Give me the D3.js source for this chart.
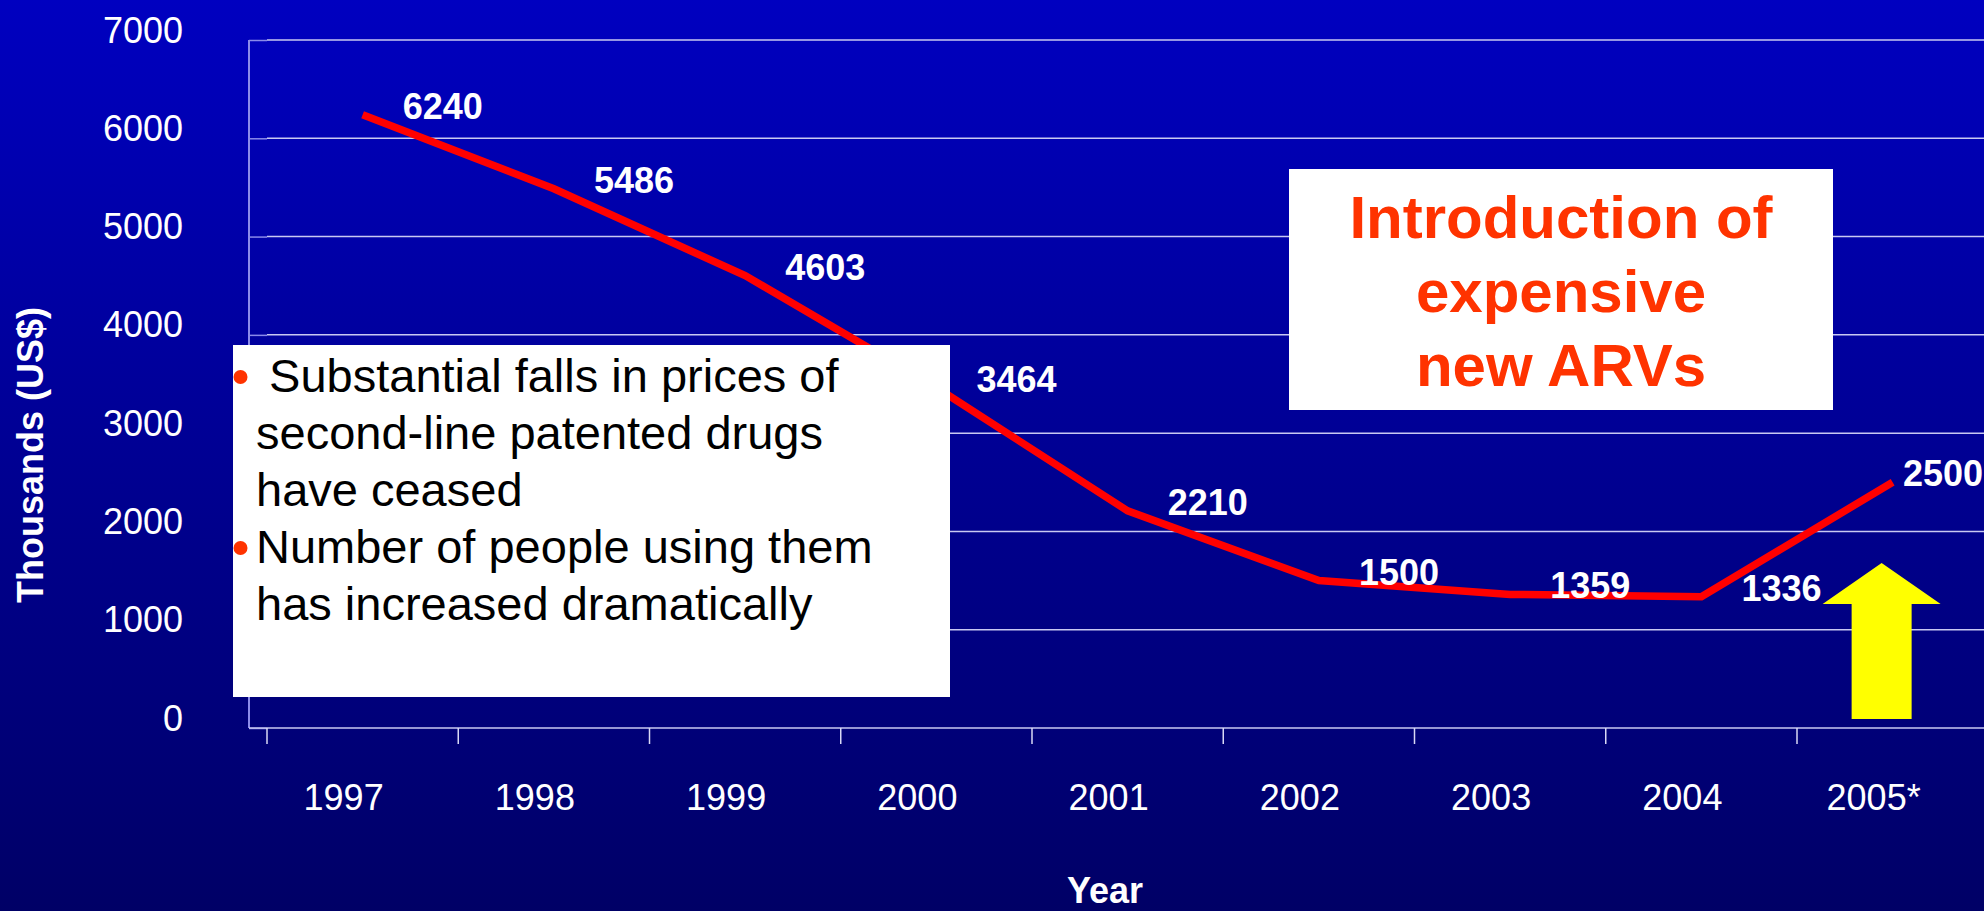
<!DOCTYPE html>
<html>
<head>
<meta charset="utf-8">
<script src="https://cdn.jsdelivr.net/npm/d3@7/dist/d3.min.js"></script>
<style>
  html, body { margin: 0; padding: 0; background: #000080; }
  svg { display: block; }
  text { font-family: "Liberation Sans", Arial, Helvetica, sans-serif; }
</style>
</head>
<body>
<svg id="chart" width="1984" height="911"></svg>
<script>
// Yearly spending on second-line ARVs, thousands of US$
const years = ["1997", "1998", "1999", "2000", "2001", "2002", "2003", "2004", "2005*"];
const spending = [6240, 5486, 4603, 3464, 2210, 1500, 1359, 1336, 2500];
const yTicks = [0, 1000, 2000, 3000, 4000, 5000, 6000, 7000];

const noteLines = [
  " Substantial falls in prices of",
  "second-line patented drugs",
  "have ceased",
  "Number of people using them",
  "has increased dramatically"
];
const noteBulletLines = [0, 3];
const calloutLines = ["Introduction of", "expensive", "new ARVs"];

const W = 1984, H = 911;
const svg = d3.select("#chart");

// background gradient
const defs = svg.append("defs");
const grad = defs.append("linearGradient")
  .attr("id", "bg").attr("x1", 0).attr("y1", 0).attr("x2", 0).attr("y2", 1);
grad.append("stop").attr("offset", "0%").attr("stop-color", "#0000C0");
grad.append("stop").attr("offset", "100%").attr("stop-color", "#000066");
svg.append("rect").attr("width", W).attr("height", H).attr("fill", "url(#bg)");

// scales
const axisX = 249;
const x = d3.scaleBand().domain(years).range([267, 267 + 9 * 191.25]);
const y = d3.scaleLinear().domain([0, 7000]).range([728, 40]);
const cx = d => x(d) + x.bandwidth() / 2;

// horizontal gridlines
svg.append("g").selectAll("line").data(yTicks.filter(v => v > 0)).join("line")
  .attr("x1", 267).attr("x2", W)
  .attr("y1", d => y(d)).attr("y2", d => y(d))
  .attr("stroke", "#C8C8F2").attr("stroke-width", 1.5);

// y axis: short inner stubs + labels
const yAxis = svg.append("g").attr("transform", `translate(${axisX},0)`)
  .call(d3.axisLeft(y).tickValues(yTicks).tickFormat(d3.format("d"))
    .tickSizeInner(-18).tickSizeOuter(0).tickPadding(66));
yAxis.select(".domain").remove();
yAxis.selectAll(".tick line").attr("stroke", "#8A8AEA").attr("stroke-width", 1.5);
yAxis.selectAll(".tick text")
  .attr("dy", null).attr("y", 2)
  .attr("fill", "#FFFFFF").attr("font-size", 36)
  .attr("font-family", "Liberation Sans, Arial, sans-serif");

// vertical axis line and baseline
svg.append("line").attr("x1", axisX).attr("x2", axisX).attr("y1", y(7000)).attr("y2", y(0))
  .attr("stroke", "#8C8CEA").attr("stroke-width", 2);
svg.append("line").attr("x1", axisX).attr("x2", W).attr("y1", y(0)).attr("y2", y(0))
  .attr("stroke", "#C8C8F2").attr("stroke-width", 1.5);

// x axis ticks at category boundaries
svg.append("g").selectAll("line").data(years).join("line")
  .attr("x1", d => x(d)).attr("x2", d => x(d))
  .attr("y1", y(0)).attr("y2", y(0) + 16)
  .attr("stroke", "#D8D8F5").attr("stroke-width", 1.5);

// x axis labels
const xAxis = svg.append("g").attr("transform", `translate(-19,${y(0)})`)
  .call(d3.axisBottom(x).tickSize(0).tickPadding(0));
xAxis.select(".domain").remove();
xAxis.selectAll(".tick text")
  .attr("dy", null).attr("y", 810 - y(0))
  .attr("fill", "#FFFFFF").attr("font-size", 36)
  .attr("font-family", "Liberation Sans, Arial, sans-serif");

// axis titles
svg.append("text")
  .attr("transform", "translate(43,455) rotate(-90)")
  .attr("text-anchor", "middle").attr("font-size", 36).attr("font-weight", "bold")
  .attr("fill", "#FFFFFF").text("Thousands (US$)");
svg.append("text")
  .attr("x", 1105).attr("y", 903)
  .attr("text-anchor", "middle").attr("font-size", 36).attr("font-weight", "bold")
  .attr("fill", "#FFFFFF").text("Year");

// spending line
const line = d3.line().x((d, i) => cx(years[i])).y(d => y(d));
svg.append("path").datum(spending)
  .attr("d", line)
  .attr("fill", "none").attr("stroke", "#FF0000").attr("stroke-width", 7.5)
  .attr("stroke-linejoin", "miter");

// value labels, kept inside the right edge
const labels = svg.append("g").selectAll("text").data(spending).join("text")
  .attr("y", d => y(d) + 4)
  .attr("font-size", 36).attr("font-weight", "bold").attr("fill", "#FFFFFF")
  .text(d => d);
labels.each(function (d, i) {
  const w = this.getComputedTextLength();
  d3.select(this).attr("x", Math.min(cx(years[i]) + 40, W - w - 1));
});

// note box
const note = svg.append("g");
note.append("rect").attr("x", 233).attr("y", 345).attr("width", 717).attr("height", 352)
  .attr("fill", "#FFFFFF");
note.selectAll("text").data(noteLines).join("text")
  .attr("x", 256).attr("y", (d, i) => 392 + i * 57)
  .attr("font-size", 47).attr("fill", "#000000")
  .style("white-space", "pre")
  .text(d => d);
note.selectAll("circle").data(noteBulletLines).join("circle")
  .attr("cx", 240.5).attr("cy", i => 392 + i * 57 - 15).attr("r", 7)
  .attr("fill", "#FF3300");

// callout box
const callout = svg.append("g");
callout.append("rect").attr("x", 1289).attr("y", 169).attr("width", 544).attr("height", 241)
  .attr("fill", "#FFFFFF");
callout.selectAll("text").data(calloutLines).join("text")
  .attr("x", 1561).attr("y", (d, i) => 238 + i * 74)
  .attr("text-anchor", "middle").attr("font-size", 60).attr("font-weight", "bold")
  .attr("fill", "#FF3300")
  .text(d => d);

// upward arrow under the last year
const ax = cx(years[years.length - 1]) - 11;
const arrow = [
  [ax, 563], [ax + 59, 604], [ax + 30, 604], [ax + 30, 719],
  [ax - 30, 719], [ax - 30, 604], [ax - 59, 604]
];
svg.append("polygon")
  .attr("points", arrow.map(p => p.join(",")).join(" "))
  .attr("fill", "#FFFF00");
</script>
</body>
</html>
